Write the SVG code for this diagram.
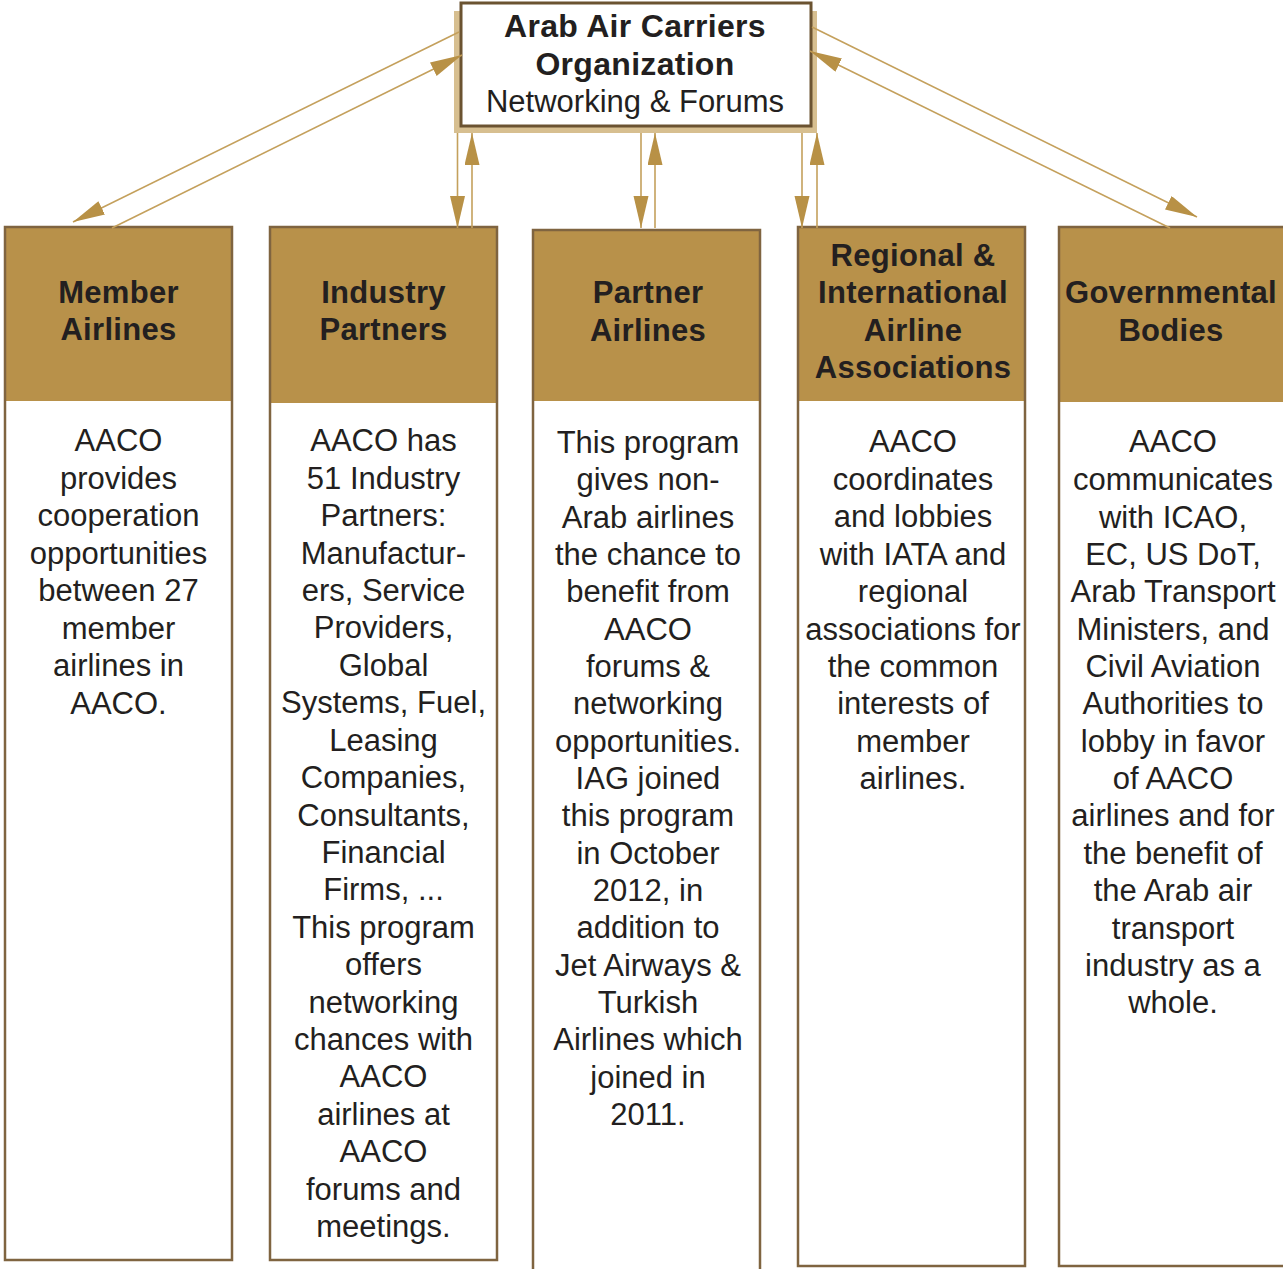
<svg xmlns="http://www.w3.org/2000/svg" width="1283" height="1269" viewBox="0 0 1283 1269">
<defs>
<style>
.body{fill:#ffffff}
.head{fill:#b8914a}
.edge{fill:none;stroke:#7f6440;stroke-width:2.5}
.ht{font-family:"Liberation Sans",Arial,sans-serif;font-weight:bold;font-size:31px;letter-spacing:0.3px;fill:#231f20;text-anchor:middle}
.tt{font-size:32px}
.bt{font-family:"Liberation Sans",Arial,sans-serif;font-size:31px;fill:#231f20;text-anchor:middle}
.con{fill:none;stroke:#c4a05c;stroke-width:1.6;marker-end:url(#ah)}
</style>
<marker id="ah" markerUnits="userSpaceOnUse" markerWidth="34" markerHeight="16" refX="32" refY="7.5" orient="auto">
<path d="M0,0 L32,7.5 L0,15 Z" fill="#b89146"/>
</marker>
</defs>
<rect width="1283" height="1269" fill="#ffffff"/>

<g id="aaco">
<rect x="454" y="11" width="363" height="122" fill="#d7bf90"/>
<rect x="461" y="3" width="350" height="123" fill="#ffffff" stroke="#6b5331" stroke-width="3"/>
<text class="ht tt" x="635" y="37">Arab Air Carriers</text>
<text class="ht tt" x="635" y="75">Organization</text>
<text class="bt" x="635" y="112">Networking &amp; Forums</text>
</g>

<g id="member-airlines">
<rect class="body" x="5" y="227" width="227" height="1033"/>
<rect class="head" x="5" y="227" width="227" height="174"/>
<rect class="edge" x="5" y="227" width="227" height="1033"/>
<text class="ht" x="118.5" y="303">Member</text>
<text class="ht" x="118.5" y="340">Airlines</text>
<text class="bt" x="118.5" y="451">AACO</text>
<text class="bt" x="118.5" y="489">provides</text>
<text class="bt" x="118.5" y="526">cooperation</text>
<text class="bt" x="118.5" y="564">opportunities</text>
<text class="bt" x="118.5" y="601">between 27</text>
<text class="bt" x="118.5" y="639">member</text>
<text class="bt" x="118.5" y="676">airlines in</text>
<text class="bt" x="118.5" y="714">AACO.</text>
</g>

<g id="industry-partners">
<rect class="body" x="270" y="227" width="227" height="1033"/>
<rect class="head" x="270" y="227" width="227" height="176"/>
<rect class="edge" x="270" y="227" width="227" height="1033"/>
<text class="ht" x="383.5" y="303">Industry</text>
<text class="ht" x="383.5" y="340">Partners</text>
<text class="bt" x="383.5" y="451">AACO has</text>
<text class="bt" x="383.5" y="489">51 Industry</text>
<text class="bt" x="383.5" y="526">Partners:</text>
<text class="bt" x="383.5" y="564">Manufactur-</text>
<text class="bt" x="383.5" y="601">ers, Service</text>
<text class="bt" x="383.5" y="638">Providers,</text>
<text class="bt" x="383.5" y="676">Global</text>
<text class="bt" x="383.5" y="713">Systems, Fuel,</text>
<text class="bt" x="383.5" y="751">Leasing</text>
<text class="bt" x="383.5" y="788">Companies,</text>
<text class="bt" x="383.5" y="826">Consultants,</text>
<text class="bt" x="383.5" y="863">Financial</text>
<text class="bt" x="383.5" y="900">Firms, ...</text>
<text class="bt" x="383.5" y="938">This program</text>
<text class="bt" x="383.5" y="975">offers</text>
<text class="bt" x="383.5" y="1013">networking</text>
<text class="bt" x="383.5" y="1050">chances with</text>
<text class="bt" x="383.5" y="1087">AACO</text>
<text class="bt" x="383.5" y="1125">airlines at</text>
<text class="bt" x="383.5" y="1162">AACO</text>
<text class="bt" x="383.5" y="1200">forums and</text>
<text class="bt" x="383.5" y="1237">meetings.</text>
</g>

<g id="partner-airlines">
<rect class="body" x="533" y="230" width="227" height="1045"/>
<rect class="head" x="533" y="230" width="227" height="171"/>
<path class="edge" d="M533,1275 V230 H760 V1275"/>
<text class="ht" x="648" y="303">Partner</text>
<text class="ht" x="648" y="341">Airlines</text>
<text class="bt" x="648" y="453">This program</text>
<text class="bt" x="648" y="490">gives non-</text>
<text class="bt" x="648" y="528">Arab airlines</text>
<text class="bt" x="648" y="565">the chance to</text>
<text class="bt" x="648" y="602">benefit from</text>
<text class="bt" x="648" y="640">AACO</text>
<text class="bt" x="648" y="677">forums &amp;</text>
<text class="bt" x="648" y="714">networking</text>
<text class="bt" x="648" y="752">opportunities.</text>
<text class="bt" x="648" y="789">IAG joined</text>
<text class="bt" x="648" y="826">this program</text>
<text class="bt" x="648" y="864">in October</text>
<text class="bt" x="648" y="901">2012, in</text>
<text class="bt" x="648" y="938">addition to</text>
<text class="bt" x="648" y="976">Jet Airways &amp;</text>
<text class="bt" x="648" y="1013">Turkish</text>
<text class="bt" x="648" y="1050">Airlines which</text>
<text class="bt" x="648" y="1088">joined in</text>
<text class="bt" x="648" y="1125">2011.</text>
</g>

<g id="regional-international">
<rect class="body" x="798" y="227" width="227" height="1039"/>
<rect class="head" x="798" y="227" width="227" height="174"/>
<rect class="edge" x="798" y="227" width="227" height="1039"/>
<text class="ht" x="913" y="266">Regional &amp;</text>
<text class="ht" x="913" y="303">International</text>
<text class="ht" x="913" y="341">Airline</text>
<text class="ht" x="913" y="378">Associations</text>
<text class="bt" x="913" y="452">AACO</text>
<text class="bt" x="913" y="490">coordinates</text>
<text class="bt" x="913" y="527">and lobbies</text>
<text class="bt" x="913" y="565">with IATA and</text>
<text class="bt" x="913" y="602">regional</text>
<text class="bt" x="913" y="640">associations for</text>
<text class="bt" x="913" y="677">the common</text>
<text class="bt" x="913" y="714">interests of</text>
<text class="bt" x="913" y="752">member</text>
<text class="bt" x="913" y="789">airlines.</text>
</g>

<g id="governmental-bodies">
<rect class="body" x="1059" y="227" width="232" height="1039"/>
<rect class="head" x="1059" y="227" width="232" height="175"/>
<rect class="edge" x="1059" y="227" width="232" height="1039"/>
<text class="ht" x="1171" y="303">Governmental</text>
<text class="ht" x="1171" y="341">Bodies</text>
<text class="bt" x="1173" y="452">AACO</text>
<text class="bt" x="1173" y="490">communicates</text>
<text class="bt" x="1173" y="528">with ICAO,</text>
<text class="bt" x="1173" y="565">EC, US DoT,</text>
<text class="bt" x="1173" y="602">Arab Transport</text>
<text class="bt" x="1173" y="640">Ministers, and</text>
<text class="bt" x="1173" y="677">Civil Aviation</text>
<text class="bt" x="1173" y="714">Authorities to</text>
<text class="bt" x="1173" y="752">lobby in favor</text>
<text class="bt" x="1173" y="789">of AACO</text>
<text class="bt" x="1173" y="826">airlines and for</text>
<text class="bt" x="1173" y="864">the benefit of</text>
<text class="bt" x="1173" y="901">the Arab air</text>
<text class="bt" x="1173" y="939">transport</text>
<text class="bt" x="1173" y="976">industry as a</text>
<text class="bt" x="1173" y="1013">whole.</text>
</g>

<g id="connectors">
<path class="con" d="M459,32 L73,222"/>
<path class="con" d="M112,228 L462,55"/>
<path class="con" d="M457.5,133 L457.5,228"/>
<path class="con" d="M472,228 L472,133"/>
<path class="con" d="M641,133 L641,228"/>
<path class="con" d="M655,228 L655,133"/>
<path class="con" d="M802,133 L802,228"/>
<path class="con" d="M817,228 L817,133"/>
<path class="con" d="M812,27 L1197,217"/>
<path class="con" d="M1170,228 L810,51"/>
</g>
</svg>
